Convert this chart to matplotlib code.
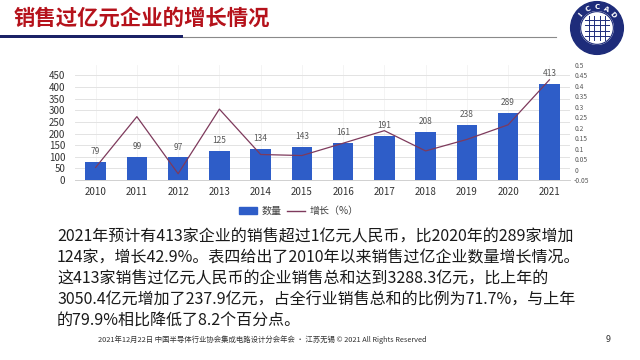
import matplotlib.pyplot as plt
from matplotlib.patches import Circle, Rectangle
from matplotlib.lines import Line2D
from matplotlib.ticker import FuncFormatter
import numpy as np

plt.rcParams['font.family'] = ['Noto Sans CJK SC', 'DejaVu Sans']

years = ['2010', '2011', '2012', '2013', '2014', '2015',
         '2016', '2017', '2018', '2019', '2020', '2021']
counts = [79, 99, 97, 125, 134, 143, 161, 191, 208, 238, 289, 413]
growth = [0.01, 0.253, -0.02, 0.289, 0.072, 0.067, 0.126, 0.186, 0.089, 0.144, 0.214, 0.429]

title = '销售过亿元企业的增长情况'
body = ['2021年预计有413家企业的销售超过1亿元人民币，比2020年的289家增加',
        '124家，增长42.9%。表四给出了2010年以来销售过亿企业数量增长情况。',
        '这413家销售过亿元人民币的企业销售总和达到3288.3亿元，比上年的',
        '3050.4亿元增加了237.9亿元，占全行业销售总和的比例为71.7%，与上年',
        '的79.9%相比降低了8.2个百分点。']
footer = '2021年12月22日 中国半导体行业协会集成电路设计分会年会 · 江苏无锡 © 2021 All Rights Reserved'

W, H = 640, 360
fig = plt.figure(figsize=(6.4, 3.6), dpi=100)
fig.patch.set_facecolor('white')

def fx(px):
    return px / W

def fy(py):
    return 1 - py / H

# title and header lines
fig.text(fx(14), fy(18), title, fontsize=15.4, fontweight='bold', color='#B5121B',
         va='center', ha='left')
fig.add_artist(Rectangle((0, fy(38)), fx(183), 3.5 / H, transform=fig.transFigure,
                         color='#1B2266', lw=0))
fig.add_artist(Line2D([fx(183), fx(556)], [fy(36.5), fy(36.5)], transform=fig.transFigure,
                      color='#8a8a8a', lw=0.8))

# logo
lax = fig.add_axes([fx(568), fy(57), fx(58), 58 / H])
lax.set_xlim(-1.1, 1.1)
lax.set_ylim(-1.1, 1.1)
lax.set_aspect('equal')
lax.axis('off')
lax.add_patch(Circle((0, 0), 1.0, color='#1E2C7A'))
lax.add_patch(Circle((0, 0), 0.62, color='white'))
lax.add_patch(Circle((0, 0), 0.62, fill=False, ec='#1E2C7A', lw=0.8))
for v in [-0.3, -0.1, 0.1, 0.3]:
    lax.plot([v, v], [-0.45, 0.45], color='#1E2C7A', lw=0.7)
    lax.plot([-0.45, 0.45], [v, v], color='#1E2C7A', lw=0.7)
for ch, ang in zip('ICCAD', [140, 115, 90, 65, 40]):
    a = np.radians(ang)
    lax.text(0.8 * np.cos(a), 0.8 * np.sin(a), ch, color='white', fontsize=5,
             fontweight='bold', ha='center', va='center', rotation=ang - 90,
             family='DejaVu Sans')

# chart
ax = fig.add_axes([fx(75), fy(180), fx(495), 115 / H])
x = np.arange(len(years))
ax.bar(x, counts, width=0.5, color='#2E5DC8', zorder=3)
for xi, c in zip(x, counts):
    ax.annotate(str(c), (xi, c), xytext=(0, 4), textcoords='offset points',
                ha='center', va='bottom', fontsize=6, color='#595959')
ax.set_xlim(-0.5, len(years) - 0.5)
ax.set_ylim(0, 495)
ax.set_yticks(np.arange(0, 451, 50))
ax.set_xticks(x)
ax.set_xticklabels(years, fontsize=7, color='#333333')
ax.tick_params(axis='y', labelsize=7, colors='#333333', length=0, pad=7)
ax.tick_params(axis='x', length=0, pad=5)
ax.grid(axis='y', color='#e3e3e3', lw=0.7, zorder=0)
ax.grid(axis='x', color='#f3f3f3', lw=0.6, zorder=0)
for s in ['top', 'right', 'left']:
    ax.spines[s].set_visible(False)
ax.spines['bottom'].set_color('#d0d0d0')
ax.spines['bottom'].set_linewidth(0.7)

ax2 = ax.twinx()
ax2.plot(x, growth, color='#7E3A5C', lw=0.9, zorder=4)
ax2.set_ylim(-0.05, 0.5)
ax2.set_yticks(np.arange(-0.05, 0.501, 0.05))
ax2.yaxis.set_major_formatter(FuncFormatter(lambda v, p: '%g' % round(v, 2)))
ax2.tick_params(axis='y', labelsize=4.8, colors='#595959', length=0, pad=3)
for s in ['top', 'right', 'left', 'bottom']:
    ax2.spines[s].set_visible(False)

# legend
handles = [Rectangle((0, 0), 1, 1, color='#2E5DC8'),
           Line2D([0], [0], color='#7E3A5C', lw=1)]
fig.legend(handles, ['数量', '增长（%）'], loc='center', bbox_to_anchor=(fx(299), fy(211)),
           ncol=2, frameon=False, fontsize=7.2, handlelength=1.8, handleheight=0.6,
           columnspacing=0.6, handletextpad=0.4, labelcolor='#404040')

# body text
for i, line in enumerate(body):
    fig.text(fx(57), fy(237 + 21 * i), line, fontsize=11.5, color='#1a1a1a',
             va='center', ha='left')

fig.text(fx(262), fy(340), footer, fontsize=5.3, color='#333333', va='center', ha='center')
fig.text(fx(608), fy(340), '9', fontsize=6.5, color='#333333', va='center', ha='center')

fig.savefig('out.png', dpi=100)
